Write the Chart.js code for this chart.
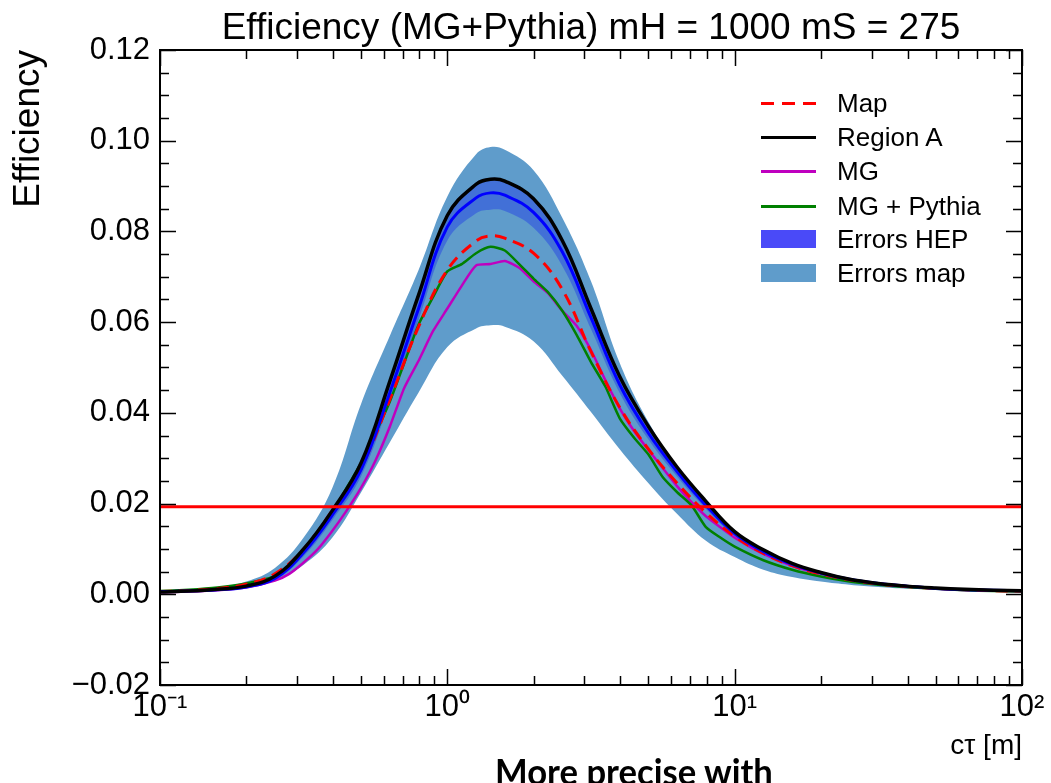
<!DOCTYPE html>
<html>
<head>
<meta charset="utf-8">
<script src="https://cdn.jsdelivr.net/npm/chart.js@4.4.1/dist/chart.umd.min.js"></script>
<style>
  html, body { margin: 0; padding: 0; background: #fff; }
  #wrap { position: relative; width: 1051px; height: 783px; overflow: hidden; background: #fff; }
  #c { position: absolute; left: 0; top: 0; }
  .lg { position: absolute; font-family: "Liberation Sans", Arial, sans-serif; font-size: 26px; line-height: 30px; color: #000; white-space: nowrap; }
  .sw { position: absolute; left: 761px; width: 55px; }
  #note { position: absolute; left: 495px; top: 749.5px; font-family: Lato, "Open Sans", sans-serif; font-weight: 700; font-size: 36px; line-height: 43.2px; color: #000; white-space: nowrap; transform-origin: 0 0; }
</style>
</head>
<body>
<div id="wrap">
  <canvas id="c" width="1051" height="783" style="width:1051px;height:783px"></canvas>
  <div id="legend"></div>
  <div id="note">More precise with</div>
</div>
<script>
// ---------------- data ----------------
const titleText = "Efficiency (MG+Pythia) mH = 1000 mS = 275";
const yTitle = "Efficiency";
const xTitle = "c\u03C4 [m]";

// c tau grid (m), log-spaced
const ctau = [0.1, 0.1259, 0.1585, 0.1995, 0.2512, 0.3162, 0.3981, 0.5012, 0.631, 0.7943,
  1.0, 1.259, 1.413, 1.585, 1.995, 2.512, 3.162, 3.981, 5.012, 6.31, 7.943,
  10, 12.59, 15.85, 19.95, 25.12, 31.62, 39.81, 50.12, 63.1, 79.43, 100];

const regionA = [0.0005, 0.0007, 0.0011, 0.0018, 0.0040, 0.0100, 0.0185, 0.0290, 0.0470, 0.0660,
  0.0835, 0.0904, 0.0915, 0.0911, 0.0872, 0.0780, 0.0630, 0.0480, 0.0370, 0.0280, 0.0205,
  0.0138, 0.0098, 0.0068, 0.0048, 0.0033, 0.0024, 0.0018, 0.0014, 0.0011, 0.0009, 0.0008];

const hepCentral = [0.0006, 0.0007, 0.0010, 0.0016, 0.0035, 0.0092, 0.0175, 0.0275, 0.0445, 0.0630,
  0.0810, 0.0874, 0.0885, 0.0880, 0.0842, 0.0755, 0.0610, 0.0462, 0.0355, 0.0270, 0.0196,
  0.0134, 0.0094, 0.0066, 0.0047, 0.0033, 0.0024, 0.0018, 0.0013, 0.0010, 0.0009, 0.0008];

const hepUpper = [0.0007, 0.0008, 0.0011, 0.0018, 0.0039, 0.0100, 0.0186, 0.0290, 0.0465, 0.0655,
  0.0840, 0.0908, 0.0918, 0.0913, 0.0872, 0.0782, 0.0635, 0.0480, 0.0369, 0.0280, 0.0203,
  0.0140, 0.0098, 0.0069, 0.0049, 0.0034, 0.0025, 0.0019, 0.0014, 0.0011, 0.0010, 0.0009];

const hepLower = [0.0005, 0.0006, 0.0009, 0.0014, 0.0031, 0.0084, 0.0164, 0.0260, 0.0425, 0.0605,
  0.0780, 0.0840, 0.0848, 0.0845, 0.0808, 0.0724, 0.0585, 0.0444, 0.0341, 0.0259, 0.0188,
  0.0128, 0.0090, 0.0063, 0.0045, 0.0032, 0.0023, 0.0017, 0.0012, 0.0009, 0.0008, 0.0007];

const mapEff = [0.0006, 0.0008, 0.0013, 0.0022, 0.0045, 0.0100, 0.0185, 0.0280, 0.0430, 0.0590,
  0.0715, 0.0779, 0.0790, 0.0785, 0.0752, 0.0672, 0.0535, 0.0412, 0.0320, 0.0245, 0.0180,
  0.0128, 0.0090, 0.0063, 0.0045, 0.0032, 0.0023, 0.0017, 0.0013, 0.0010, 0.0008, 0.0007];

const mapUpper = [0.0008, 0.0010, 0.0016, 0.0028, 0.0058, 0.0125, 0.0235, 0.0420, 0.0570, 0.0715,
  0.0877, 0.0970, 0.0986, 0.0980, 0.0935, 0.0830, 0.0690, 0.0510, 0.0380, 0.0282, 0.0204,
  0.0142, 0.0100, 0.0070, 0.0050, 0.0035, 0.0026, 0.0020, 0.0015, 0.0012, 0.0010, 0.0009];

const mapLower = [0.0004, 0.0006, 0.0009, 0.0015, 0.0030, 0.0065, 0.0125, 0.0225, 0.0335, 0.0445,
  0.0545, 0.0586, 0.0593, 0.0590, 0.0558, 0.0482, 0.0402, 0.0320, 0.0245, 0.0177, 0.0118,
  0.0082, 0.0054, 0.0038, 0.0028, 0.0021, 0.0016, 0.0012, 0.0010, 0.0008, 0.0006, 0.0005];

// finer grid for the (noisier) MG curves
const ctauFine = [0.1, 0.1259, 0.1585, 0.1995, 0.2512, 0.2818, 0.3162, 0.3548, 0.3981, 0.4467,
  0.5012, 0.5623, 0.631, 0.7079, 0.7943, 0.8913, 1.0, 1.122, 1.259, 1.413,
  1.585, 1.778, 1.995, 2.239, 2.512, 2.818, 3.162, 3.548, 3.981, 4.467,
  5.012, 5.623, 6.31, 7.079, 7.943, 8.913, 10, 12.59, 15.85, 19.95,
  25.12, 31.62, 39.81, 50.12, 63.1, 79.43, 100];

const mgPythia = [0.0007, 0.0010, 0.0015, 0.0024, 0.0040, 0.0060, 0.0095, 0.0135, 0.0182, 0.0235,
  0.0290, 0.0355, 0.0425, 0.0510, 0.0595, 0.0655, 0.0712, 0.0728, 0.0752, 0.0766,
  0.0758, 0.0728, 0.0696, 0.0666, 0.0625, 0.0572, 0.0512, 0.0458, 0.0388, 0.0345,
  0.0308, 0.0258, 0.0225, 0.0196, 0.0148, 0.0125, 0.0105, 0.0075, 0.0054, 0.0039,
  0.0028, 0.0021, 0.0016, 0.0012, 0.0009, 0.0007, 0.0006];

const mgOnly = [0.0004, 0.0006, 0.0009, 0.0015, 0.0030, 0.0045, 0.0070, 0.0100, 0.0140, 0.0185,
  0.0235, 0.0295, 0.0370, 0.0455, 0.0515, 0.0580, 0.0630, 0.0680, 0.0725, 0.0728,
  0.0735, 0.0720, 0.0690, 0.0664, 0.0625, 0.0592, 0.0538, 0.0472, 0.0410, 0.0360,
  0.0318, 0.0278, 0.0238, 0.0203, 0.0172, 0.0148, 0.0125, 0.0089, 0.0063, 0.0045,
  0.0032, 0.0024, 0.0018, 0.0013, 0.0010, 0.0008, 0.0007];

const thresholdX = [0.1, 100];
const thresholdY = [0.0193, 0.0193];

const xMajor = [0.1, 1, 10, 100];
const xTickLabels = ["10\u207B\u00B9", "10\u2070", "10\u00B9", "10\u00B2"];
const xMinor = [0.2, 0.3, 0.4, 0.5, 0.6, 0.7, 0.8, 0.9, 2, 3, 4, 5, 6, 7, 8, 9, 20, 30, 40, 50, 60, 70, 80, 90];
const yMajor = [-0.02, 0, 0.02, 0.04, 0.06, 0.08, 0.10, 0.12];
const yTickLabels = ["\u22120.02", "0.00", "0.02", "0.04", "0.06", "0.08", "0.10", "0.12"];
const yMinor = [-0.015, -0.01, -0.005, 0.005, 0.01, 0.015, 0.025, 0.03, 0.035, 0.045, 0.05, 0.055,
  0.065, 0.07, 0.075, 0.085, 0.09, 0.095, 0.105, 0.11, 0.115];

const legendItems = [
  { label: "Map", kind: "dash", color: "#ff0000" },
  { label: "Region A", kind: "line", color: "#000000" },
  { label: "MG", kind: "line", color: "#bf00bf" },
  { label: "MG + Pythia", kind: "line", color: "#008000" },
  { label: "Errors HEP", kind: "box", color: "#4a4af8" },
  { label: "Errors map", kind: "box", color: "#5f9ccb" }
];

// ---------------- helpers ----------------
const pts = (xs, ys) => xs.map((x, i) => ({ x: x, y: ys[i] }));
const FONT = '"Liberation Sans", Arial, sans-serif';

const frameTicks = {
  id: 'frameTicks',
  afterDraw(chart) {
    const { ctx, chartArea: a, scales: { x, y } } = chart;
    const MAJ = 16, MIN = 9;
    ctx.save();
    ctx.strokeStyle = '#000';
    ctx.lineWidth = 1.5;
    ctx.beginPath();
    const xt = (v, len) => {
      const p = Math.round(x.getPixelForValue(v)) + 0.5;
      ctx.moveTo(p, a.bottom); ctx.lineTo(p, a.bottom - len);
      ctx.moveTo(p, a.top); ctx.lineTo(p, a.top + len);
    };
    const yt = (v, len) => {
      const p = Math.round(y.getPixelForValue(v)) + 0.5;
      ctx.moveTo(a.left, p); ctx.lineTo(a.left + len, p);
      ctx.moveTo(a.right, p); ctx.lineTo(a.right - len, p);
    };
    xMajor.forEach(v => xt(v, MAJ));
    xMinor.forEach(v => xt(v, MIN));
    yMajor.forEach(v => yt(v, MAJ));
    yMinor.forEach(v => yt(v, MIN));
    ctx.stroke();
    ctx.lineWidth = 2;
    ctx.strokeRect(a.left, a.top, a.right - a.left, a.bottom - a.top);
    ctx.restore();
  }
};

const smooth = { tension: 0.4, pointRadius: 0 };

const chart = new Chart(document.getElementById('c'), {
  type: 'line',
  data: {
    datasets: [
      { label: 'threshold', data: pts(thresholdX, thresholdY), borderColor: '#ff0000', borderWidth: 3, pointRadius: 0, order: 0 },
      Object.assign({ label: 'Region A', data: pts(ctau, regionA), borderColor: '#000000', borderWidth: 3.5, order: 1 }, smooth),
      Object.assign({ label: 'HEP', data: pts(ctau, hepCentral), borderColor: '#0000ff', borderWidth: 3, order: 2 }, smooth),
      Object.assign({ label: 'Map', data: pts(ctau, mapEff), borderColor: '#ff0000', borderWidth: 3, borderDash: [12, 7], order: 3 }, smooth),
      { label: 'MG + Pythia', data: pts(ctauFine, mgPythia), borderColor: '#008000', borderWidth: 2.5, pointRadius: 0, tension: 0.2, order: 4 },
      { label: 'MG', data: pts(ctauFine, mgOnly), borderColor: '#bf00bf', borderWidth: 2.5, pointRadius: 0, tension: 0.2, order: 5 },
      Object.assign({ label: 'Errors HEP', data: pts(ctau, hepUpper), borderWidth: 0, borderColor: 'rgba(0,0,0,0)', fill: '+1', backgroundColor: 'rgba(30,60,230,0.45)', order: 6 }, smooth),
      Object.assign({ label: 'Errors HEP low', data: pts(ctau, hepLower), borderWidth: 0, borderColor: 'rgba(0,0,0,0)', fill: false, order: 7 }, smooth),
      Object.assign({ label: 'Errors map', data: pts(ctau, mapUpper), borderWidth: 0, borderColor: 'rgba(0,0,0,0)', fill: '+1', backgroundColor: '#5f9ccb', order: 8 }, smooth),
      Object.assign({ label: 'Errors map low', data: pts(ctau, mapLower), borderWidth: 0, borderColor: 'rgba(0,0,0,0)', fill: false, order: 9 }, smooth)
    ]
  },
  options: {
    responsive: false,
    animation: false,
    devicePixelRatio: 1,
    layout: { padding: { top: 0, right: 29, bottom: 0, left: 0 } },
    plugins: {
      legend: { display: false },
      tooltip: { enabled: false },
      title: {
        display: true, text: titleText, fullSize: false, color: '#000',
        font: { family: FONT, size: 37, weight: 'normal', lineHeight: 1.1 },
        padding: { top: 8.85, bottom: 0.45 }
      }
    },
    scales: {
      x: {
        type: 'logarithmic', min: 0.1, max: 100,
        afterBuildTicks: s => { s.ticks = xMajor.map(v => ({ value: v })); },
        afterFit: s => { s.height = 98; },
        ticks: { callback: (v, i) => xTickLabels[i], color: '#000', font: { family: FONT, size: 31 }, padding: 4, maxRotation: 0, autoSkip: false },
        grid: { display: false, drawTicks: false },
        border: { display: false },
        title: { display: true, text: xTitle, align: 'end', color: '#000', font: { family: FONT, size: 28 }, padding: { top: 0, bottom: 20 } }
      },
      y: {
        min: -0.02, max: 0.12,
        afterBuildTicks: s => { s.ticks = yMajor.map(v => ({ value: v })); },
        afterFit: s => { s.width = 160; },
        ticks: { callback: (v, i) => yTickLabels[i], color: '#000', font: { family: FONT, size: 31 }, padding: 10 },
        grid: { display: false, drawTicks: false },
        border: { display: false },
        title: { display: true, text: yTitle, align: 'end', color: '#000', font: { family: FONT, size: 37 }, padding: { top: 7, bottom: 0 } }
      }
    }
  },
  plugins: [frameTicks]
});

// ---------------- legend (inside axes, top right) ----------------
const legend = document.getElementById('legend');
const rowY = [103, 137, 171, 206, 239, 273];
legendItems.forEach((it, i) => {
  const cy = rowY[i];
  const sw = document.createElement('div');
  sw.className = 'sw';
  if (it.kind === 'box') {
    sw.style.top = (cy - 9) + 'px';
    sw.style.height = '18px';
    sw.style.background = it.color;
  } else {
    sw.style.top = (cy - 1.5) + 'px';
    sw.style.height = '3px';
    sw.style.background = it.kind === 'dash'
      ? 'repeating-linear-gradient(90deg,' + it.color + ' 0 13px, transparent 13px 21px)'
      : it.color;
  }
  legend.appendChild(sw);
  const t = document.createElement('div');
  t.className = 'lg';
  t.style.left = '837px';
  t.style.top = (cy - 15) + 'px';
  t.textContent = it.label;
  legend.appendChild(t);
});

// fit bottom note width to reference (~278px)
const note = document.getElementById('note');
const w = note.getBoundingClientRect().width;
if (w > 0) note.style.transform = 'scaleX(' + (278 / w).toFixed(3) + ')';
</script>
</body>
</html>
